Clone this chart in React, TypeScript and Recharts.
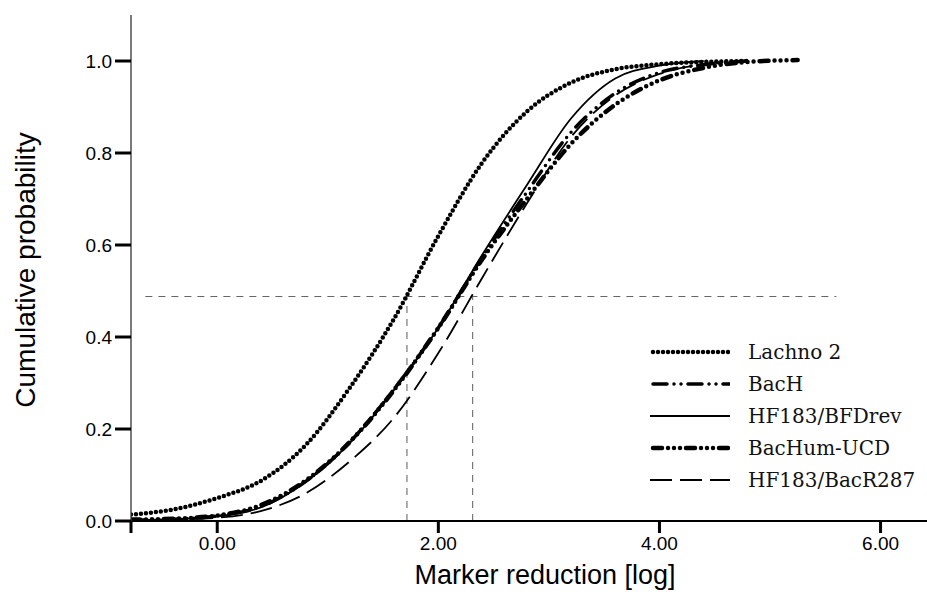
import React from "react";
import {
  LineChart,
  Line,
  XAxis,
  YAxis,
  ReferenceLine,
} from "recharts";

const xValues = [-0.78, -0.4, 0, 0.4, 0.8, 1.2, 1.6, 2.0, 2.4, 2.8, 3.2, 3.6, 4.0, 4.4, 4.8, 5.25];

const lachno2 = [0.014, 0.025, 0.05, 0.088, 0.165, 0.29, 0.44, 0.62, 0.78, 0.89, 0.953, 0.982, 0.993, 0.998, 1.0, null];
const bacH = [0.002, 0.004, 0.011, 0.032, 0.086, 0.172, 0.287, 0.42, 0.575, 0.715, 0.845, 0.93, 0.975, 0.992, 1.0, null];
const hf183Bfdrev = [0.002, 0.004, 0.01, 0.03, 0.085, 0.17, 0.285, 0.42, 0.58, 0.73, 0.875, 0.962, 0.99, 1.0, null, null];
const bacHumUcd = [0.003, 0.005, 0.012, 0.035, 0.088, 0.172, 0.285, 0.42, 0.57, 0.7, 0.82, 0.905, 0.958, 0.985, 0.998, 1.002];
const hf183BacR287 = [0.001, 0.003, 0.007, 0.022, 0.06, 0.13, 0.225, 0.365, 0.53, 0.69, 0.835, 0.925, 0.972, 0.993, 1.0, null];

const xTicks = [-0.78, 0, 2, 4, 6];
const yTicks = [0, 0.2, 0.4, 0.6, 0.8, 1.0];

// median guide lines
const medianLevel = 0.488;
const medianSpan = [-0.65, 5.6];
const medianX = [1.716, 2.31];

const data = xValues.map((x, i) => ({
  x,
  lachno: lachno2[i],
  bacH: bacH[i],
  bfdrev: hf183Bfdrev[i],
  bacHum: bacHumUcd[i],
  bacR287: hf183BacR287[i],
}));

const series = [
  { key: "lachno", name: "Lachno 2", width: 4.5, dash: "0 5", cap: "round" },
  { key: "bacH", name: "BacH", width: 3.5, dash: "14 7 0 7 0 7", cap: "round" },
  { key: "bfdrev", name: "HF183/BFDrev", width: 1.8, dash: undefined, cap: "butt" },
  { key: "bacHum", name: "BacHum-UCD", width: 4.5, dash: "9 6 0 6 0 6 0 6", cap: "round" },
  { key: "bacR287", name: "HF183/BacR287", width: 1.8, dash: "22 8", cap: "butt" },
];

const sans = "'Liberation Sans', Arial, sans-serif";

const XTitle = () => (
  <text x={545} y={584} textAnchor="middle" fontFamily={sans} fontSize={27} fill="#000">
    Marker reduction [log]
  </text>
);

const YTitle = () => (
  <text
    transform="rotate(-90)"
    x={-270}
    y={35}
    textAnchor="middle"
    fontFamily={sans}
    fontSize={28}
    fill="#000"
  >
    Cumulative probability
  </text>
);

const LegendBox = () => (
  <div style={{ position: "absolute", left: 650, top: 336 }}>
    {series.map((s) => (
      <div key={s.key} style={{ display: "flex", alignItems: "center", height: 32 }}>
        <svg width={80} height={12}>
          <line
            x1={s.cap === "round" ? 3 : 0}
            y1={6}
            x2={80}
            y2={6}
            stroke="#000"
            strokeWidth={s.width}
            strokeDasharray={s.dash}
            strokeLinecap={s.cap as any}
          />
        </svg>
        <span
          style={{
            marginLeft: 18,
            fontFamily: "'DejaVu Serif', serif",
            fontSize: 20,
            lineHeight: "32px",
            color: "#111",
          }}
        >
          {s.name}
        </span>
      </div>
    ))}
  </div>
);

export default function App() {
  return (
    <div
      style={{
        position: "absolute",
        left: 0,
        top: 0,
        width: 927,
        height: 592,
        background: "#fff",
      }}
    >
      <LineChart width={927} height={592} data={data} margin={{ top: 15, right: 0, left: 0, bottom: 0 }}>
        <XAxis
          type="number"
          dataKey="x"
          domain={[-0.78, 6.42]}
          ticks={xTicks}
          allowDataOverflow
          height={71}
          tickSize={12}
          tickMargin={4}
          axisLine={{ stroke: "#000", strokeWidth: 2 }}
          tickLine={{ stroke: "#000", strokeWidth: 3 }}
          tick={{ fontSize: 19, fill: "#000", fontFamily: sans }}
          tickFormatter={(v: number) => (v < -0.5 ? "" : v.toFixed(2))}
          label={<XTitle />}
        />
        <YAxis
          type="number"
          domain={[0, 1.1]}
          ticks={yTicks}
          width={131}
          tickSize={16}
          tickMargin={3}
          axisLine={{ stroke: "#333", strokeWidth: 1.3 }}
          tickLine={{ stroke: "#000", strokeWidth: 3 }}
          tick={{ fontSize: 19, fill: "#000", fontFamily: sans }}
          tickFormatter={(v: number) => v.toFixed(1)}
          label={<YTitle />}
        />
        <ReferenceLine
          segment={[
            { x: medianSpan[0], y: medianLevel },
            { x: medianSpan[1], y: medianLevel },
          ]}
          stroke="#666"
          strokeWidth={1.2}
          strokeDasharray="7 6"
        />
        {medianX.map((mx) => (
          <ReferenceLine
            key={mx}
            segment={[
              { x: mx, y: 0 },
              { x: mx, y: medianLevel },
            ]}
            stroke="#777"
            strokeWidth={1.2}
            strokeDasharray="7 6"
          />
        ))}
        {series.map((s) => (
          <Line
            key={s.key}
            type="monotone"
            dataKey={s.key}
            name={s.name}
            stroke="#000"
            strokeWidth={s.width}
            strokeDasharray={s.dash}
            strokeLinecap={s.cap as any}
            dot={false}
            activeDot={false}
            isAnimationActive={false}
          />
        ))}
      </LineChart>
      <LegendBox />
    </div>
  );
}
